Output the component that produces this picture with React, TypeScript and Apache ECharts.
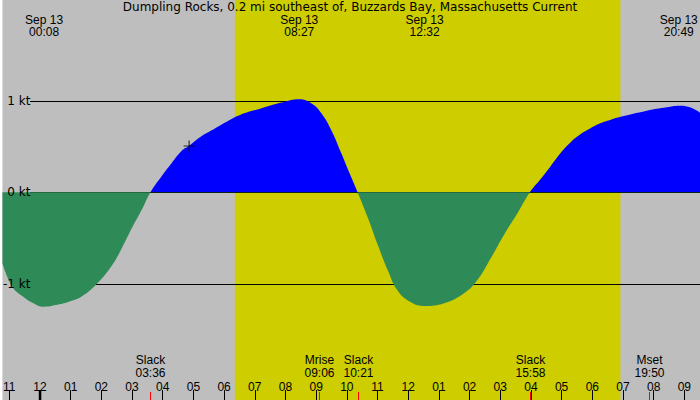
import React, { useEffect, useRef } from 'react'
import * as echarts from 'echarts'

const FONT = '"Liberation Sans", Arial, sans-serif'
const WORD_FONT = '"DejaVu Sans", sans-serif'
const TITLE = 'Dumpling Rocks, 0.2 mi southeast of, Buzzards Bay, Massachusetts Current'

// hours from midnight Sep 13 (negative = Sep 12)
const X_MIN = -1.224
const X_MAX = 21.51
const Y_MIN = -2.277
const Y_MAX = 2.108

const TIMES_H = [
  -1.224, -0.9, -0.57, -0.25, 0.133, 0.51, 0.94, 1.37, 1.86, 2.35, 2.67, 3.0, 3.32, 3.6,
  3.97, 4.3, 4.62, 4.86, 5.27, 5.7, 6.14, 6.52, 7.22, 7.87, 8.45, 8.84, 9.17, 9.49, 9.82, 10.09, 10.35,
  10.69, 11.01, 11.33, 11.66, 12.09, 12.533, 13.17, 13.82, 14.26, 14.69, 15.12, 15.56, 15.967,
  16.31, 16.63, 16.96, 17.28, 17.61, 17.93, 18.26, 18.58, 18.89, 19.78, 20.43, 20.817, 21.18, 21.51,
]
const SPEED_KT = [
  -0.78, -1.035, -1.14, -1.21, -1.254, -1.236, -1.2, -1.14, -1.0, -0.8, -0.61, -0.39, -0.19, 0,
  0.179, 0.325, 0.456, 0.511, 0.617, 0.7, 0.785, 0.848, 0.921, 0.983, 1.02, 0.976, 0.866, 0.683, 0.428, 0.208, 0,
  -0.285, -0.578, -0.852, -1.08, -1.206, -1.247, -1.217, -1.108, -0.96, -0.724, -0.468, -0.23, 0,
  0.142, 0.281, 0.428, 0.544, 0.636, 0.7, 0.757, 0.793, 0.825, 0.895, 0.932, 0.95, 0.932, 0.873,
]

const HOUR_TICKS = [-1, 0, 1, 2, 3, 4, 5, 6, 7, 8, 9, 10, 11, 12, 13, 14, 15, 16, 17, 18, 19, 20, 21]
const KT_TICKS = [-1, 0, 1]

const EXTREME_DATES = ['Sep 13', 'Sep 13', 'Sep 13', 'Sep 13']
const EXTREME_TIMES = ['00:08', '08:27', '12:32', '20:49']

const EVENT_NAMES = ['Slack', 'Mrise', 'Slack', 'Slack', 'Mset']
const EVENT_TIMES = ['03:36', '09:06', '10:21', '15:58', '19:50']

const SUNRISE = '06:21'
const SUNSET = '18:55'

const NOW_MARK = [4.86, 0.508]

const FLOOD_COLOR = '#0000ff'
const EBB_COLOR = '#2e8b57'

const toHours = (s: string) => {
  const [h, m] = s.split(':').map(Number)
  return h + m / 60
}

const hourLabel = (v: number) => {
  const h = ((Math.round(v) % 12) + 12) % 12 || 12
  return String(h).padStart(2, '0')
}

const txt = (text: string, x: number, y: number, font: string) => ({
  type: 'text',
  x,
  y,
  style: {
    text,
    fill: '#000',
    font: `12px ${font}`,
    lineHeight: 12.5,
    align: 'center',
    verticalAlign: 'middle',
  },
})

export default function App() {
  const ref = useRef<HTMLDivElement>(null)

  useEffect(() => {
    if (!ref.current) return
    const chart = echarts.init(ref.current, null, { renderer: 'svg' })

    const option = {
      animation: false,
      title: {
        text: TITLE,
        left: 'center',
        top: 1,
        padding: 0,
        textStyle: { fontSize: 12, fontWeight: 'normal', color: '#000', fontFamily: WORD_FONT },
      },
      grid: {
        left: 0,
        right: 0,
        top: 0,
        bottom: 0,
        show: true,
        backgroundColor: '#bebebe',
        borderWidth: 0,
      },
      xAxis: {
        type: 'value',
        min: X_MIN,
        max: X_MAX,
        z: 10,
        splitLine: { show: false },
        axisLine: { show: false, onZero: false },
        axisTick: {
          inside: true,
          length: 10,
          customValues: HOUR_TICKS,
          lineStyle: { color: '#000', width: 1 },
        },
        axisLabel: {
          inside: true,
          margin: 7,
          customValues: HOUR_TICKS,
          formatter: hourLabel,
          color: '#000',
          fontSize: 12,
          fontFamily: FONT,
        },
      },
      yAxis: {
        type: 'value',
        min: Y_MIN,
        max: Y_MAX,
        z: 10,
        splitLine: { show: false },
        axisLine: { show: false, onZero: false },
        axisTick: { show: false },
        axisLabel: {
          inside: true,
          align: 'right',
          margin: 28,
          customValues: KT_TICKS,
          formatter: (v: number) => `${v} kt`,
          color: '#000',
          fontSize: 12,
          fontFamily: WORD_FONT,
        },
      },
      series: [
        {
          // daylight band
          type: 'custom',
          z: 1,
          silent: true,
          data: [[toHours(SUNRISE), 0, toHours(SUNSET)]],
          renderItem: (params: any, api: any) => {
            const a = api.coord([api.value(0), 0])
            const b = api.coord([api.value(2), 0])
            return {
              type: 'rect',
              shape: { x: a[0], y: params.coordSys.y, width: b[0] - a[0], height: params.coordSys.height },
              style: { fill: '#cdcd00' },
            }
          },
        },
        {
          // kt reference lines
          type: 'custom',
          z: 2,
          silent: true,
          data: KT_TICKS.map(v => [0, v]),
          renderItem: (params: any, api: any) => {
            const y = Math.round(api.coord([0, api.value(1)])[1]) + 0.5
            return {
              type: 'line',
              shape: { x1: 30, y1: y, x2: params.coordSys.x + params.coordSys.width, y2: y },
              style: { stroke: '#000', lineWidth: 1 },
            }
          },
        },
        {
          id: 'current',
          type: 'line',
          z: 3,
          data: TIMES_H.map((t, i) => [t, SPEED_KT[i]]),
          smooth: 0.45,
          showSymbol: false,
          silent: true,
          lineStyle: { width: 0, opacity: 0 },
          areaStyle: { opacity: 1, origin: 0, color: FLOOD_COLOR },
        },
        {
          // extremes labels at top
          type: 'custom',
          z: 5,
          silent: true,
          data: EXTREME_TIMES.map(s => [toHours(s), 0]),
          renderItem: (params: any, api: any) => {
            const x = api.coord([api.value(0), 0])[0]
            const i = params.dataIndex
            return txt(`${EXTREME_DATES[i]}\n${EXTREME_TIMES[i]}`, x, 26, FONT)
          },
        },
        {
          // slack / moon events at bottom
          type: 'custom',
          z: 5,
          silent: true,
          data: EVENT_TIMES.map(s => [toHours(s), 0]),
          renderItem: (params: any, api: any) => {
            const x = Math.round(api.coord([api.value(0), 0])[0]) + 0.5
            const i = params.dataIndex
            const bottom = params.coordSys.y + params.coordSys.height
            return {
              type: 'group',
              children: [
                txt(`${EVENT_NAMES[i]}\n${EVENT_TIMES[i]}`, x, 366.5, FONT),
                {
                  type: 'line',
                  shape: { x1: x, y1: bottom - 8, x2: x, y2: bottom },
                  style: { stroke: '#ff0000', lineWidth: 1 },
                },
              ],
            }
          },
        },
        {
          // midnight marker
          type: 'custom',
          z: 5,
          silent: true,
          data: [[0, 0]],
          renderItem: (params: any, api: any) => {
            const x = api.coord([api.value(0), 0])[0]
            const bottom = params.coordSys.y + params.coordSys.height
            return {
              type: 'rect',
              shape: { x: x - 1.2, y: bottom - 10, width: 2.5, height: 10 },
              style: { fill: '#000' },
            }
          },
        },
        {
          type: 'scatter',
          z: 6,
          silent: true,
          data: [NOW_MARK],
          symbol: 'path://M4.5,0h1v10h-1zM0,4.5h10v1h-10z',
          symbolSize: 11,
          itemStyle: { color: '#000' },
        },
      ],
    }

    chart.setOption(option as any)

    // split the fill colour exactly at 0 kt
    const y0 = (chart.convertToPixel({ gridIndex: 0 }, [0, 0]) as number[])[1]
    chart.setOption({
      series: [
        {
          id: 'current',
          areaStyle: {
            color: new echarts.graphic.LinearGradient(
              0,
              y0 - 1,
              0,
              y0 + 1,
              [
                { offset: 0, color: FLOOD_COLOR },
                { offset: 0.5, color: FLOOD_COLOR },
                { offset: 0.5, color: EBB_COLOR },
                { offset: 1, color: EBB_COLOR },
              ],
              true
            ),
          },
        },
      ],
    })

    return () => chart.dispose()
  }, [])

  return <div ref={ref} style={{ position: 'absolute', left: 0, top: 0, width: 700, height: 400 }} />
}
